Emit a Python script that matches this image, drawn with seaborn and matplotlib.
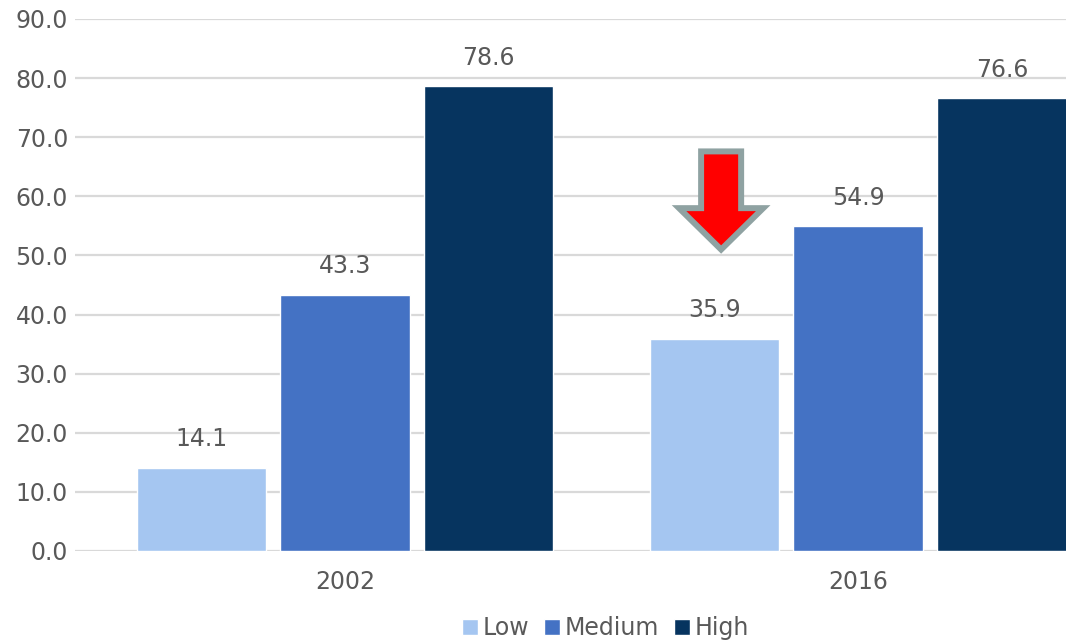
import matplotlib
matplotlib.use("Agg")
import matplotlib.pyplot as plt
from matplotlib.patches import Polygon
from matplotlib.ticker import FormatStrFormatter, MultipleLocator
import pandas as pd
import seaborn as sns

# Share of respondents by level, per survey year
years = ["2002", "2016"]
levels = ["Low", "Medium", "High"]
low_values = [14.1, 35.9]
medium_values = [43.3, 54.9]
high_values = [78.6, 76.6]
level_colors = ["#A5C6F1", "#4472C4", "#06345F"]

rows = []
for level, values in zip(levels, [low_values, medium_values, high_values]):
    for year, v in zip(years, values):
        rows.append({"year": year, "level": level, "value": v})
df = pd.DataFrame(rows)

sns.set_theme(style="white")
text_color = "#595959"
plt.rcParams["font.family"] = ["DejaVu Sans"]

fig = plt.figure(figsize=(10.66, 6.41), dpi=100)
ax = fig.add_axes([75 / 1066, 90 / 641, 1 - 75 / 1066, (551 - 19) / 641])

sns.barplot(data=df, x="year", y="value", hue="level", hue_order=levels,
            palette=level_colors, saturation=1, width=0.84, gap=0.1,
            ax=ax, legend=True)

ax.set_ylim(0, 90)
ax.set_xlim(-0.526, 1.405)
ax.yaxis.set_major_locator(MultipleLocator(10))
ax.yaxis.set_major_formatter(FormatStrFormatter("%.1f"))
ax.grid(axis="y", color="#D9D9D9", linewidth=1.6)
ax.set_axisbelow(True)
for s in ax.spines.values():
    s.set_visible(False)
ax.set_xlabel("")
ax.set_ylabel("")
ax.tick_params(axis="y", length=0, pad=5, labelsize=17, labelcolor=text_color)
ax.tick_params(axis="x", length=0, pad=14, labelsize=17, labelcolor=text_color)

for container in ax.containers:
    ax.bar_label(container, fmt="%.1f", padding=12, fontsize=17, color=text_color)

# Downward arrow above the 2016 "Low" bar
cx = 0.733
shaft_half, head_half = 0.039, 0.082
y_top, y_neck, y_tip = 67.6, 58.0, 51.0
arrow_pts = [
    (cx - shaft_half, y_top), (cx + shaft_half, y_top),
    (cx + shaft_half, y_neck), (cx + head_half, y_neck),
    (cx, y_tip),
    (cx - head_half, y_neck), (cx - shaft_half, y_neck),
]
ax.add_patch(Polygon(arrow_pts, closed=True, facecolor="#FF0000",
                     edgecolor="#8FA2A2", linewidth=4.3, joinstyle="miter",
                     zorder=5))

handles, labels = ax.get_legend_handles_labels()
ax.legend(handles, labels, ncol=3, frameon=False, loc="center",
          bbox_to_anchor=(0.568, 0.02), bbox_transform=fig.transFigure,
          handlelength=0.7, handleheight=0.7, handletextpad=0.2,
          columnspacing=0.6, fontsize=17, labelcolor=text_color)

fig.savefig("out.png", dpi=100)
